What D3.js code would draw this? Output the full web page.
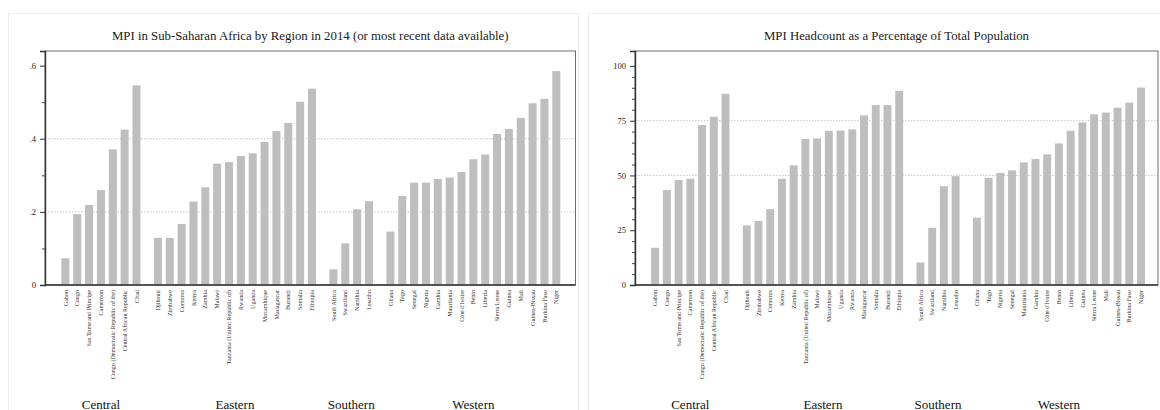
<!DOCTYPE html>
<html>
<head>
<meta charset="utf-8">
<script src="https://cdn.jsdelivr.net/npm/d3@7"></script>
<style>
  html, body { margin: 0; padding: 0; background: #fff; }
  svg { display: block; font-family: "Liberation Serif", "DejaVu Serif", serif; }
</style>
</head>
<body>
<svg id="chart" width="1160" height="410"></svg>
<script>
// Regions, in the order they appear along the x axis
const regions = ["Central", "Eastern", "Southern", "Western"];

// Panel 1: MPI by country
const mpiCountries = [
  "Gabon", "Congo", "Sao Tome and Principe", "Cameroon", "Congo (Democratic Republic of the)", "Central African Republic", "Chad",
  "Djibouti", "Zimbabwe", "Comoros", "Kenya", "Zambia", "Malawi", "Tanzania (United Republic of)", "Rwanda", "Uganda",
  "Mozambique", "Madagascar", "Burundi", "Somalia", "Ethiopia",
  "South Africa", "Swaziland", "Namibia", "Lesotho",
  "Ghana", "Togo", "Senegal", "Nigeria", "Gambia", "Mauritania", "Côte d'Ivoire", "Benin", "Liberia", "Sierra Leone",
  "Guinea", "Mali", "Guinea-Bissau", "Burkina Faso", "Niger"
];
const mpiRegions = [
  "Central", "Central", "Central", "Central", "Central", "Central", "Central",
  "Eastern", "Eastern", "Eastern", "Eastern", "Eastern", "Eastern", "Eastern", "Eastern", "Eastern",
  "Eastern", "Eastern", "Eastern", "Eastern", "Eastern",
  "Southern", "Southern", "Southern", "Southern",
  "Western", "Western", "Western", "Western", "Western", "Western", "Western", "Western", "Western", "Western",
  "Western", "Western", "Western", "Western", "Western"
];
const mpiValues = [
  0.073, 0.194, 0.219, 0.260, 0.371, 0.425, 0.546,
  0.129, 0.129, 0.167, 0.228, 0.267, 0.332, 0.336, 0.353, 0.360,
  0.391, 0.421, 0.443, 0.501, 0.537,
  0.043, 0.114, 0.207, 0.229,
  0.146, 0.244, 0.280, 0.280, 0.290, 0.294, 0.309, 0.344, 0.357, 0.413,
  0.427, 0.457, 0.497, 0.509, 0.585
];
const mpiTicks = [0, 0.2, 0.4, 0.6];
const mpiTickLabels = ["0", ".2", ".4", ".6"];
const mpiMinorTicks = [0.1, 0.3, 0.5];
const mpiGrid = [0.2, 0.4];

// Panel 2: MPI headcount (% of population) by country
const hcCountries = [
  "Gabon", "Congo", "Sao Tome and Principe", "Cameroon", "Congo (Democratic Republic of the)", "Central African Republic", "Chad",
  "Djibouti", "Zimbabwe", "Comoros", "Kenya", "Zambia", "Tanzania (United Republic of)", "Malawi", "Mozambique", "Uganda",
  "Rwanda", "Madagascar", "Somalia", "Burundi", "Ethiopia",
  "South Africa", "Swaziland", "Namibia", "Lesotho",
  "Ghana", "Togo", "Nigeria", "Senegal", "Mauritania", "Gambia", "Côte d'Ivoire", "Benin", "Liberia", "Guinea",
  "Sierra Leone", "Mali", "Guinea-Bissau", "Burkina Faso", "Niger"
];
const hcRegions = mpiRegions.slice();
const hcValues = [
  17.0, 43.3, 47.9, 48.5, 73.0, 76.8, 87.3,
  27.2, 29.2, 34.6, 48.5, 54.6, 66.7, 66.9, 70.4, 70.5,
  71.0, 77.4, 82.1, 82.1, 88.6,
  10.3, 26.1, 45.1, 49.7,
  30.7, 48.9, 51.2, 52.3, 55.9, 57.5, 59.6, 64.6, 70.4, 74.2,
  77.9, 78.7, 80.9, 83.2, 90.1
];
const hcTicks = [0, 25, 50, 75, 100];
const hcTickLabels = ["0", "25", "50", "75", "100"];
const hcMinorTicks = [5, 10, 15, 20, 30, 35, 40, 45, 55, 60, 65, 70, 80, 85, 90, 95];
const hcGrid = [50, 75];

const titles = [
  "MPI in Sub-Saharan Africa by Region in 2014 (or most recent data available)",
  "MPI Headcount as a Percentage of Total Population"
];

const svg = d3.select("#chart");

// faint frames around each graph panel
svg.append("rect").attr("x", 8.5).attr("y", 13.5).attr("width", 570).attr("height", 420)
  .attr("fill", "none").attr("stroke", "#efefef");
svg.append("rect").attr("x", 588.5).attr("y", 13.5).attr("width", 600).attr("height", 420)
  .attr("fill", "none").attr("stroke", "#efefef");

const plotTop = 51, plotBottom = 285;
const groupGap = 0.81;      // extra space between regions, in bar slots
const barFrac = 0.675;      // bar width as a fraction of a slot

function drawPanel(cfg) {
  const g = svg.append("g");
  const pos = cfg.countries.map((c, i) => i + regions.indexOf(cfg.regionsOf[i]) * groupGap);
  const last = pos[pos.length - 1];

  const x = d3.scaleLinear()
    .domain([-cfg.padL, last + cfg.padR])
    .range([cfg.left, cfg.right]);
  const y = d3.scaleLinear()
    .domain([0, cfg.yMax])
    .range([plotBottom, plotTop]);
  const bw = x(barFrac) - x(0);

  // title
  g.append("text")
    .attr("x", (cfg.left + cfg.right) / 2).attr("y", 40)
    .attr("text-anchor", "middle")
    .attr("font-size", 12.8).attr("fill", "#1a1a1a")
    .text(cfg.title);

  // dotted grid lines
  g.selectAll(".grid").data(cfg.grid).join("line")
    .attr("x1", cfg.left).attr("x2", cfg.right)
    .attr("y1", d => y(d)).attr("y2", d => y(d))
    .attr("stroke", "#c8c8c8").attr("stroke-width", 1)
    .attr("stroke-dasharray", "1.5,1.5");

  // bars
  g.selectAll(".bar").data(cfg.values).join("rect")
    .attr("x", (d, i) => x(pos[i]) - bw / 2)
    .attr("width", bw)
    .attr("y", d => y(d))
    .attr("height", d => y(0) - y(d))
    .attr("fill", "#bebebe");

  // plot frame
  g.append("rect")
    .attr("x", cfg.left).attr("y", plotTop)
    .attr("width", cfg.right - cfg.left).attr("height", plotBottom - plotTop)
    .attr("fill", "none").attr("stroke", "#6e6e6e").attr("stroke-width", 1);

  // y axis: major ticks with labels, then minor ticks
  const yAxis = g.append("g")
    .attr("transform", `translate(${cfg.left},0)`)
    .call(d3.axisLeft(y).tickValues(cfg.ticks).tickSize(5).tickPadding(4)
      .tickFormat((d, i) => cfg.tickLabels[i]));
  yAxis.select(".domain").attr("stroke", "#333").attr("stroke-width", 1.4);
  yAxis.selectAll(".tick line").attr("stroke", "#333");
  yAxis.selectAll(".tick text")
    .attr("font-family", "Liberation Serif, serif").attr("font-size", 8.5).attr("fill", "#222");

  const yMinor = g.append("g")
    .attr("transform", `translate(${cfg.left},0)`)
    .call(d3.axisLeft(y).tickValues(cfg.minor).tickSize(3).tickFormat(""));
  yMinor.select(".domain").remove();
  yMinor.selectAll(".tick line").attr("stroke", "#444");

  // x baseline
  g.append("line")
    .attr("x1", cfg.left).attr("x2", cfg.right)
    .attr("y1", y(0)).attr("y2", y(0))
    .attr("stroke", "#333").attr("stroke-width", 1.6);

  // country labels, vertical
  g.selectAll(".clabel").data(cfg.countries).join("text")
    .attr("transform", (d, i) => `translate(${x(pos[i])},290) rotate(-90)`)
    .attr("text-anchor", "end")
    .attr("dy", "0.35em")
    .attr("font-size", 6.1).attr("fill", "#333")
    .text(d => d);

  // region labels
  regions.forEach(r => {
    const p = pos.filter((v, i) => cfg.regionsOf[i] === r);
    g.append("text")
      .attr("x", x((p[0] + p[p.length - 1]) / 2))
      .attr("y", 408.5)
      .attr("text-anchor", "middle")
      .attr("font-size", 13).attr("fill", "#111")
      .text(r);
  });
}

drawPanel({
  title: titles[0], countries: mpiCountries, regionsOf: mpiRegions, values: mpiValues,
  yMax: 0.64, ticks: mpiTicks, tickLabels: mpiTickLabels, minor: mpiMinorTicks, grid: mpiGrid,
  left: 45, right: 575.5, padL: 1.72, padR: 1.62
});

drawPanel({
  title: titles[1], countries: hcCountries, regionsOf: hcRegions, values: hcValues,
  yMax: 106.8, ticks: hcTicks, tickLabels: hcTickLabels, minor: hcMinorTicks, grid: hcGrid,
  left: 635, right: 1158, padL: 1.72, padR: 1.45
});
</script>
</body>
</html>
